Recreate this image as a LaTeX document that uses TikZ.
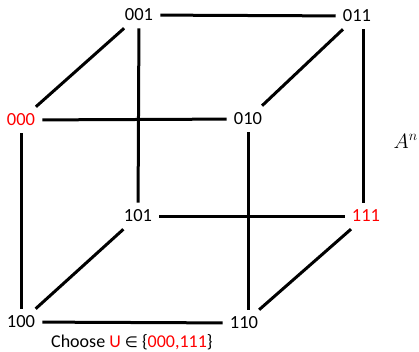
\documentclass[tikz,border=0pt]{standalone}
\usepackage{fontspec}
\setmainfont{Carlito}
\newfontfamily\symfont{DejaVu Sans}
\usepackage{tikz}
\usetikzlibrary{positioning}

\begin{document}
\begin{tikzpicture}[x=1pt,y=-1pt,
  vx/.style={font=\fontsize{18.5}{20}\selectfont,inner sep=7pt},
  hit/.style={vx,text=red},
  edge/.style={line width=3pt}]
\useasboundingbox (0,0) rectangle (419,351);
% back face
\node[vx] (v001) at (139,15) {001};
\node[vx] (v011) at (357,16) {011};
\node[vx] (v101) at (138,216) {101};
\node[hit] (v111) at (366,216) {111};
% front face
\node[hit] (v000) at (21,120) {000};
\node[vx] (v010) at (248,119) {010};
\node[vx] (v100) at (21,322) {100};
\node[vx] (v110) at (244,323) {110};
\node[font=\fontsize{22}{24}\selectfont,anchor=east,inner sep=0pt] (space)
  at (418,141) {$A^n$};
\node[font=\fontsize{18}{20}\selectfont,anchor=west,inner sep=0pt] (rule)
  at (51,342) {Choose \textcolor{red}{U} {\symfont\fontsize{15}{17}\selectfont ∈}
  \{\textcolor{red}{000,111}\}};
\draw[edge] (v001) -- (v011);
\draw[edge] (v001) -- (v101);
\draw[edge] (v001) -- (v000);
\draw[edge] (v011) -- (v010);
\draw[edge] ([xshift=-3pt]v111.north) -- ([xshift=-3pt]v111.north |- v011.south);
\draw[edge] (v000) -- (v010);
\draw[edge] (v000) -- (v100);
\draw[edge] (v010.south) -- (v010.south |- v110.north);
\draw[edge] (v101) -- (v111);
\draw[edge] (v101) -- (v100);
\draw[edge] (v111) -- (v110);
\draw[edge] (v100) -- (v110);
\end{tikzpicture}
\end{document}
